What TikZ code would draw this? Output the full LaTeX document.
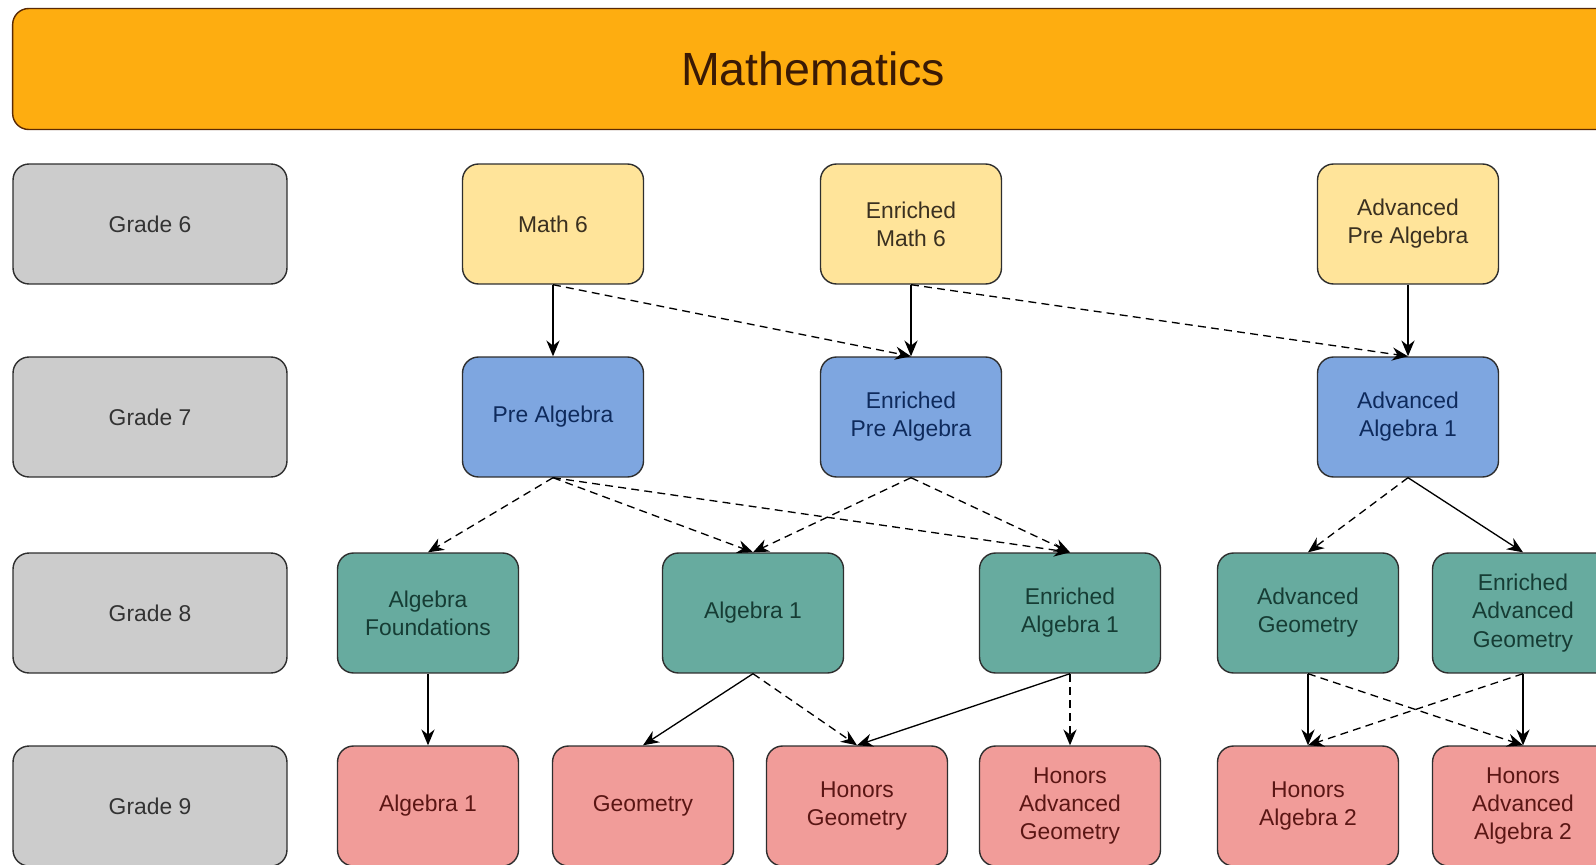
\documentclass[tikz,border=0pt]{standalone}
\usepackage{fontspec}
\setmainfont{Liberation Sans}
\usetikzlibrary{arrows.meta}

\definecolor{bannerfill}{HTML}{FEAD10}
\definecolor{bannerline}{HTML}{5A2A05}
\definecolor{bannertext}{HTML}{3A1A05}
\definecolor{greyfill}{HTML}{CCCCCC}
\definecolor{greytext}{HTML}{333333}
\definecolor{yelfill}{HTML}{FFE49A}
\definecolor{yeltext}{HTML}{3A3020}
\definecolor{blufill}{HTML}{7EA6E0}
\definecolor{blutext}{HTML}{0E2A5C}
\definecolor{grnfill}{HTML}{67AB9F}
\definecolor{grntext}{HTML}{163C34}
\definecolor{pnkfill}{HTML}{F19C99}
\definecolor{pnktext}{HTML}{5A1614}
\definecolor{boxline}{HTML}{2E2E2E}

\tikzset{
  course/.style={rectangle,rounded corners=0.32cm,draw=boxline,line width=0.8pt,
    minimum width=3.62cm,minimum height=2.4cm,inner sep=0pt,align=center,
    font=\fontsize{13}{16}\selectfont},
  grade/.style={course,fill=greyfill,text=greytext,minimum width=5.48cm},
  yel/.style={course,fill=yelfill,text=yeltext},
  blu/.style={course,fill=blufill,text=blutext},
  grn/.style={course,fill=grnfill,text=grntext},
  pnk/.style={course,fill=pnkfill,text=pnktext},
  solidarr/.style={-{Stealth[length=9pt,width=7.5pt]},line width=0.75pt,black},
  dasharr/.style={solidarr,dash pattern=on 4.5pt off 3pt},
}

\begin{document}
\begin{tikzpicture}[x=0.02cm,y=-0.02cm]
\useasboundingbox (0,0) rectangle (1596,865);
\clip (0,0) rectangle (1596,865);

% banner
\node[rectangle,rounded corners=0.32cm,draw=bannerline,line width=0.8pt,fill=bannerfill,
  minimum width=32.02cm,minimum height=2.42cm,text=bannertext,
  font=\fontsize{26.5}{30}\selectfont] (title) at (813,69) {Mathematics};

% grades
\node[grade] (g6) at (150,224) {Grade 6};
\node[grade] (g7) at (150,417) {Grade 7};
\node[grade] (g8) at (150,613) {Grade 8};
\node[grade] (g9) at (150,806) {Grade 9};

% grade 6 courses
\node[yel] (math6) at (553,224) {Math 6};
\node[yel] (emath6) at (911,224) {Enriched\\Math 6};
\node[yel] (apalg) at (1408,224) {Advanced\\Pre Algebra};

% grade 7 courses
\node[blu] (palg) at (553,417) {Pre Algebra};
\node[blu] (epalg) at (911,417) {Enriched\\Pre Algebra};
\node[blu] (aalg1) at (1408,417) {Advanced\\Algebra 1};

% grade 8 courses
\node[grn] (afound) at (428,613) {Algebra\\Foundations};
\node[grn] (alg1a) at (753,613) {Algebra 1};
\node[grn] (ealg1) at (1070,613) {Enriched\\Algebra 1};
\node[grn] (ageo) at (1308,613) {Advanced\\Geometry};
\node[grn] (eageo) at (1523,613) {Enriched\\Advanced\\Geometry};

% grade 9 courses
\node[pnk] (alg1b) at (428,806) {Algebra 1};
\node[pnk] (geo) at (643,806) {Geometry};
\node[pnk] (hgeo) at (857,806) {Honors\\Geometry};
\node[pnk] (hageo) at (1070,806) {Honors\\Advanced\\Geometry};
\node[pnk] (halg2) at (1308,806) {Honors\\Algebra 2};
\node[pnk] (haalg2) at (1523,806) {Honors\\Advanced\\Algebra 2};

% 6 -> 7
\draw[solidarr] (math6.south) -- (palg.north);
\draw[dasharr] (math6.south) -- (epalg.north);
\draw[solidarr] (emath6.south) -- (epalg.north);
\draw[dasharr] (emath6.south) -- (aalg1.north);
\draw[solidarr] (apalg.south) -- (aalg1.north);

% 7 -> 8
\draw[dasharr] (palg.south) -- (afound.north);
\draw[dasharr] (palg.south) -- (alg1a.north);
\draw[dasharr] (palg.south) -- (ealg1.north);
\draw[dasharr] (epalg.south) -- (alg1a.north);
\draw[dasharr] (epalg.south) -- (ealg1.north);
\draw[dasharr] (aalg1.south) -- (ageo.north);
\draw[solidarr] (aalg1.south) -- (eageo.north);

% 8 -> 9
\draw[solidarr] (afound.south) -- (alg1b.north);
\draw[solidarr] (alg1a.south) -- (geo.north);
\draw[dasharr] (alg1a.south) -- (hgeo.north);
\draw[solidarr] (ealg1.south) -- (hgeo.north);
\draw[dasharr] (ealg1.south) -- (hageo.north);
\draw[solidarr] (ageo.south) -- (halg2.north);
\draw[dasharr] (ageo.south) -- (haalg2.north);
\draw[dasharr] (eageo.south) -- (halg2.north);
\draw[solidarr] (eageo.south) -- (haalg2.north);

\end{tikzpicture}
\end{document}
